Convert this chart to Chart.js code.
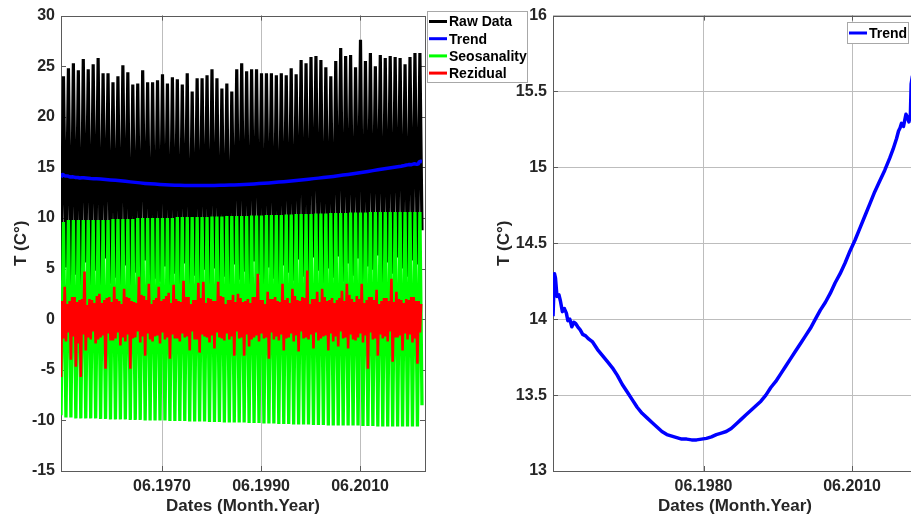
<!DOCTYPE html>
<html>
<head>
<meta charset="utf-8">
<script src="https://cdn.jsdelivr.net/npm/chart.js@4.4.1/dist/chart.umd.min.js"></script>
<style>
  html, body { margin: 0; padding: 0; background: #fff; overflow: hidden; }
  #wrap { position: relative; width: 911px; height: 520px; overflow: hidden; }
  #leftChart { position: absolute; left: 0; top: 0; }
  #rightChart { position: absolute; left: 460px; top: 0; }
</style>
</head>
<body>
<div id="wrap">
  <canvas id="leftChart" width="545" height="520"></canvas>
  <canvas id="rightChart" width="470" height="520"></canvas>
</div>
<script>
const FONT = '"Liberation Sans", Arial, Helvetica, sans-serif';
const INK = "#262626";

// monthly series, kept as a few read-off values per year
const firstYear = 1950;
const lastMonthYear = 2022.92;

const rawSummer = [
    24.0, 24.8, 25.3, 24.6, 25.7, 24.7, 25.2, 25.8, 24.3, 24.3,
    23.4, 24.0, 25.1, 24.4, 23.2, 23.3, 24.6, 23.4, 23.4, 23.6,
    24.2, 23.3, 23.9, 23.7, 23.2, 24.3, 22.5, 23.8, 23.8, 24.1,
    24.7, 23.8, 22.8, 23.3, 22.5, 24.7, 25.3, 24.5, 24.7, 24.7,
    24.3, 24.3, 24.3, 24.1, 24.3, 24.1, 24.8, 24.2, 25.6, 25.3,
    25.9, 26.0, 25.6, 24.9, 24.0, 25.5, 26.8, 26.0, 26.1, 24.9,
    27.6, 25.5, 26.3, 25.0, 26.1, 25.8, 26.0, 25.9, 25.8, 25.2,
    25.9, 26.3, 26.3
];
const rawWinter = [
    3.8, 5.1, 2.6, 4.4, 1.9, 5.6, 3.1, 4.8, 2.2, 6.0,
    3.5, 4.1, 2.9, 5.3, 1.6, 4.6, 3.3, 5.8, 2.4, 4.0,
    3.7, 5.2, 2.8, 4.5, 3.0, 5.5, 2.1, 4.3, 3.6, 4.9,
    2.7, 5.0, 3.2, 4.2, 2.5, 5.4, 3.9, 4.7, 3.4, 5.7,
    4.4, 3.1, 5.1, 4.0, 2.9, 5.3, 4.6, 3.8, 5.9, 4.2,
    3.5, 6.1, 4.8, 3.3, 5.0, 4.1, 6.2, 3.7, 5.5, 4.3,
    6.0, 2.9, 5.2, 4.9, 6.3, 3.6, 5.6, 4.5, 6.1, 5.0,
    4.2, 5.8, 5.4
];
const seasonHigh = [
    9.6, 9.8, 9.8, 9.8, 9.8, 9.8, 9.8, 9.8, 9.8, 9.8,
    9.9, 9.9, 9.9, 9.9, 9.9, 10.0, 10.0, 10.0, 10.0, 10.0,
    10.0, 10.0, 10.0, 10.1, 10.1, 10.1, 10.1, 10.1, 10.1, 10.1,
    10.15, 10.15, 10.15, 10.2, 10.2, 10.2, 10.2, 10.2, 10.25, 10.25,
    10.25, 10.3, 10.3, 10.3, 10.3, 10.35, 10.35, 10.4, 10.4, 10.4,
    10.4, 10.45, 10.45, 10.45, 10.5, 10.5, 10.5, 10.5, 10.55, 10.55,
    10.55, 10.55, 10.6, 10.6, 10.6, 10.6, 10.6, 10.6, 10.6, 10.6,
    10.6, 10.6, 10.6
];
const seasonLow = [
    -9.5, -9.7, -9.7, -9.8, -9.8, -9.8, -9.8, -9.8, -9.85, -9.85,
    -9.9, -9.9, -9.9, -9.9, -9.95, -9.95, -9.95, -10.0, -10.0, -10.0,
    -10.0, -10.0, -10.05, -10.05, -10.05, -10.05, -10.1, -10.1, -10.1, -10.1,
    -10.15, -10.15, -10.15, -10.2, -10.2, -10.2, -10.2, -10.2, -10.25, -10.25,
    -10.25, -10.3, -10.3, -10.3, -10.35, -10.35, -10.35, -10.4, -10.4, -10.4,
    -10.4, -10.45, -10.45, -10.45, -10.5, -10.5, -10.5, -10.5, -10.5, -10.5,
    -10.5, -10.55, -10.55, -10.55, -10.6, -10.6, -10.6, -10.6, -10.6, -10.6,
    -10.6, -10.6, -10.6
];
// residual: Jan, Apr, Jul, Oct values
const residJan = [
    -5.7, -2.2, -4.0, -4.7, -5.7, -3.1, -2.0, -2.4, -1.8, -4.9,
    -2.1, -1.9, -2.6, -2.2, -4.9, -1.8, -2.3, -3.6, -2.0, -1.7,
    -2.4, -2.0, -3.9, -1.9, -2.2, -1.8, -3.1, -2.0, -3.3, -1.7,
    -2.3, -2.9, -1.8, -2.1, -2.0, -3.6, -1.9, -3.6, -2.7, -1.8,
    -2.2, -1.9, -3.9, -2.0, -2.1, -3.1, -1.8, -2.2, -3.2, -1.9,
    -2.0, -2.9, -2.1, -1.7, -3.1, -2.2, -2.7, -1.9, -2.9, -2.0,
    -1.8, -2.3, -4.9, -2.0, -3.6, -1.9, -2.2, -4.2, -1.8, -3.1,
    -2.0, -2.3, -4.4
];
const residApr = [
    1.8, 1.5, 2.2, 1.7, 2.0, 1.4, 1.9, 2.3, 1.6, 2.1,
    1.7, 2.0, 1.5, 2.2, 1.8, 1.6, 2.4, 1.9, 1.5, 2.1,
    1.8, 2.3, 1.6, 2.0, 1.7, 2.2, 1.5, 1.9, 2.1, 1.6,
    2.0, 1.8, 2.3, 1.5, 1.9, 1.7, 2.1, 1.8, 1.6, 2.2,
    1.9, 1.5, 2.0, 2.2, 1.7, 1.9, 1.6, 2.3, 1.8, 2.1,
    1.5, 2.0, 1.7, 2.2, 1.9, 1.6, 2.1, 1.8, 2.4, 1.7,
    2.0, 1.6, 2.2, 1.9, 1.5, 2.1, 1.8, 1.7, 2.0, 1.6,
    1.9, 2.2, 1.8
];
const residJul = [
    -1.9, -1.3, -1.7, -2.4, -1.5, -1.8, -1.2, -2.0, -1.6, -1.4,
    -2.1, -1.3, -1.8, -1.5, -1.9, -1.2, -1.7, -1.4, -2.2, -1.6,
    -1.3, -1.8, -1.5, -1.9, -1.4, -1.7, -1.2, -2.0, -1.5, -1.8,
    -1.6, -1.3, -1.9, -1.4, -1.7, -1.2, -1.8, -1.5, -2.0, -1.6,
    -1.4, -1.8, -1.3, -1.7, -1.5, -1.9, -1.4, -1.6, -1.2, -1.8,
    -1.5, -1.3, -1.9, -1.6, -1.4, -1.7, -1.2, -1.8, -1.5, -2.1,
    -1.4, -1.6, -1.3, -1.9, -1.5, -1.7, -1.2, -1.8, -1.6, -1.4,
    -1.5, -1.9, -1.3
];
const residOct = [
    3.2, 1.8, 2.2, 1.9, 4.7, 2.0, 1.6, 2.5, 1.9, 2.2,
    3.2, 1.8, 3.0, 2.1, 1.7, 4.2, 2.3, 3.5, 1.9, 3.2,
    2.0, 2.6, 3.4, 1.8, 3.8, 2.2, 1.9, 3.6, 3.7, 2.1,
    1.8, 3.7, 2.2, 1.9, 2.4, 2.5, 1.7, 2.0, 2.2, 4.5,
    1.9, 2.7, 2.0, 1.8, 3.5, 2.1, 3.0, 1.9, 2.2, 4.8,
    2.0, 2.7, 3.0, 1.8, 2.1, 1.9, 2.8, 3.5, 2.0, 2.3,
    3.5, 1.9, 2.2, 2.9, 1.8, 2.1, 4.0, 2.7, 1.9, 2.0,
    2.2, 1.8, 1.5
];
const rawLast = 8.8;
const seasonLast = -8.5;
const residLast = 1.5;

const trendYears = [
    1950.0, 1950.3, 1950.5, 1950.8, 1951.2, 1951.5, 1951.9, 1952.3, 1952.7, 1953.0,
    1953.4, 1953.8, 1954.2, 1954.6, 1955.0, 1955.5, 1956.0, 1956.6, 1957.2, 1958.0,
    1959.0, 1960.0, 1961.0, 1962.0, 1963.0, 1964.0, 1965.0, 1966.0, 1967.0, 1968.0,
    1969.0, 1970.0, 1971.0, 1972.0, 1973.0, 1974.0, 1975.0, 1976.0, 1977.0, 1978.0,
    1979.0, 1980.0, 1981.0, 1982.0, 1983.0, 1984.0, 1985.0, 1986.0, 1987.0, 1988.0,
    1989.0, 1990.0, 1991.0, 1992.0, 1993.0, 1994.0, 1995.0, 1996.0, 1997.0, 1998.0,
    1999.0, 2000.0, 2001.0, 2002.0, 2003.0, 2004.0, 2005.0, 2006.0, 2007.0, 2008.0,
    2009.0, 2010.0, 2011.0, 2012.0, 2013.0, 2014.0, 2015.0, 2016.0, 2017.0, 2018.0,
    2018.7, 2019.4, 2019.8, 2020.1, 2020.4, 2020.8, 2021.3, 2021.6, 2021.9, 2022.2,
    2022.35, 2022.6, 2022.92
];
const trendValues = [
    14.02, 14.30, 14.27, 14.15, 14.16, 14.12, 14.05, 14.07, 14.04, 13.99,
    14.00, 13.95, 13.98, 13.97, 13.95, 13.93, 13.90, 13.89, 13.87, 13.85,
    13.80, 13.76, 13.72, 13.68, 13.63, 13.57, 13.52, 13.47, 13.42, 13.38,
    13.35, 13.32, 13.29, 13.26, 13.24, 13.23, 13.22, 13.21, 13.21, 13.205,
    13.205, 13.21, 13.215, 13.225, 13.24, 13.25, 13.26, 13.28, 13.31, 13.34,
    13.37, 13.40, 13.43, 13.46, 13.50, 13.55, 13.59, 13.64, 13.69, 13.74,
    13.79, 13.84, 13.89, 13.94, 14.00, 14.06, 14.11, 14.17, 14.24, 14.30,
    14.37, 14.45, 14.52, 14.60, 14.68, 14.76, 14.84, 14.91, 14.98, 15.06,
    15.12, 15.19, 15.24, 15.26, 15.29, 15.27, 15.35, 15.33, 15.30, 15.35,
    15.55, 15.60, 15.58
];

const leftTickYears = [1970.41, 1990.41, 2010.41];
const leftTickLabels = ["06.1970", "06.1990", "06.2010"];
const rightTickYears = [1980.41, 2010.41];
const rightTickLabels = ["06.1980", "06.2010"];

const xMin = 1950;
const xMax = 2023.53;

// lay the per-year values out in time order: columns[k] sits at year + k / columns.length
function monthly(columns, last) {
    const pts = [];
    columns[0].forEach((_, i) => {
        columns.forEach((col, k) => {
            pts.push({ x: firstYear + i + k / columns.length, y: col[i] });
        });
    });
    pts.push({ x: lastMonthYear, y: last });
    return pts;
}

const trendPoints = trendYears.map((x, i) => ({ x: x, y: trendValues[i] }));

// MATLAB style box with inward ticks, drawn under the data
const boxPlugin = {
    id: "box",
    beforeDatasetsDraw(chart) {
        const { ctx, chartArea: a, scales } = chart;
        ctx.save();
        ctx.strokeStyle = "#5a5a5a";
        ctx.lineWidth = 1;
        ctx.beginPath();
        scales.x.ticks.forEach(t => {
            const px = Math.round(scales.x.getPixelForValue(t.value)) + 0.5;
            ctx.moveTo(px, a.bottom); ctx.lineTo(px, a.bottom - 5);
            ctx.moveTo(px, a.top); ctx.lineTo(px, a.top + 5);
        });
        scales.y.ticks.forEach(t => {
            const py = Math.round(scales.y.getPixelForValue(t.value)) + 0.5;
            ctx.moveTo(a.left, py); ctx.lineTo(a.left + 5, py);
            ctx.moveTo(a.right, py); ctx.lineTo(a.right - 5, py);
        });
        ctx.stroke();
        ctx.strokeRect(Math.round(a.left) + 0.5, Math.round(a.top) + 0.5,
            Math.round(a.right - a.left), Math.round(a.bottom - a.top));
        ctx.restore();
    }
};

function legendPlugin(box, items) {
    return {
        id: "boxLegend",
        afterDraw(chart) {
            const ctx = chart.ctx;
            ctx.save();
            ctx.fillStyle = "#fff";
            ctx.fillRect(box.x, box.y, box.w, box.h);
            ctx.strokeStyle = "#a8a8a8";
            ctx.lineWidth = 1;
            ctx.strokeRect(box.x + 0.5, box.y + 0.5, box.w, box.h);
            ctx.font = "bold 14px " + FONT;
            ctx.textBaseline = "middle";
            items.forEach((it, i) => {
                const y = box.y + box.first + i * box.step;
                ctx.strokeStyle = it.color;
                ctx.lineWidth = 3;
                ctx.beginPath();
                ctx.moveTo(box.x + 2, y);
                ctx.lineTo(box.x + 20, y);
                ctx.stroke();
                ctx.fillStyle = "#000";
                ctx.fillText(it.label, box.x + 22, y + 1);
            });
            ctx.restore();
        }
    };
}

function xScale(tickYears, tickLabels, showGrid) {
    return {
        type: "linear",
        min: xMin,
        max: xMax,
        afterBuildTicks: s => { s.ticks = tickYears.map(v => ({ value: v })); },
        afterFit: s => { s.height = 49; },
        ticks: {
            autoSkip: false,
            maxRotation: 0,
            padding: 6,
            color: INK,
            font: { family: FONT, size: 16, weight: "bold" },
            callback: v => tickLabels[tickYears.indexOf(v)]
        },
        grid: { display: showGrid, drawTicks: false, color: "#bdbdbd" },
        border: { display: false },
        title: {
            display: true,
            text: "Dates (Month.Year)",
            color: INK,
            font: { family: FONT, size: 17, weight: "bold" },
            padding: { top: 0, bottom: 3 }
        }
    };
}

function yScale(min, max, step, width, titlePad, showGrid) {
    return {
        min: min,
        max: max,
        afterBuildTicks: s => {
            const t = [];
            for (let v = min; v <= max + 1e-9; v += step) t.push({ value: Math.round(v * 10) / 10 });
            s.ticks = t;
        },
        afterFit: s => { s.width = width; },
        ticks: {
            padding: 6,
            color: INK,
            font: { family: FONT, size: 16, weight: "bold" },
            callback: v => String(v)
        },
        grid: { display: showGrid, drawTicks: false, color: "#bdbdbd" },
        border: { display: false },
        title: {
            display: true,
            text: "T (C°)",
            color: INK,
            font: { family: FONT, size: 17, weight: "bold" },
            padding: { top: titlePad, bottom: 0 }
        }
    };
}

const lineStyle = { pointRadius: 0, tension: 0, fill: false };

new Chart(document.getElementById("leftChart"), {
    type: "line",
    data: {
        datasets: [
            { ...lineStyle, label: "Raw Data", data: monthly([rawWinter, rawSummer], rawLast), borderColor: "#000000", borderWidth: 3.2, order: 3 },
            { ...lineStyle, label: "Trend", data: trendPoints, borderColor: "#0000ff", borderWidth: 3.5, borderJoinStyle: "round", order: 2 },
            { ...lineStyle, label: "Seosanality", data: monthly([seasonLow, seasonHigh], seasonLast), borderColor: "#00ff00", borderWidth: 3.3, order: 1 },
            { ...lineStyle, label: "Rezidual", data: monthly([residJan, residApr, residJul, residOct], residLast), borderColor: "#ff0000", borderWidth: 2.6, order: 0 }
        ]
    },
    options: {
        responsive: false,
        animation: false,
        layout: { padding: { left: 0, right: 120, top: 15, bottom: 0 } },
        plugins: { legend: { display: false }, tooltip: { enabled: false } },
        scales: {
            x: xScale(leftTickYears, leftTickLabels, true),
            y: yScale(-15, 30, 5, 61, 11, false)
        }
    },
    plugins: [boxPlugin, legendPlugin(
        { x: 427, y: 11, w: 100, h: 71, first: 10.5, step: 17.2 },
        [
            { label: "Raw Data", color: "#000000" },
            { label: "Trend", color: "#0000ff" },
            { label: "Seosanality", color: "#00ff00" },
            { label: "Rezidual", color: "#ff0000" }
        ]
    )]
});

new Chart(document.getElementById("rightChart"), {
    type: "line",
    data: {
        datasets: [
            { ...lineStyle, label: "Trend", data: trendPoints, borderColor: "#0000ff", borderWidth: 3.5, borderJoinStyle: "round" }
        ]
    },
    options: {
        responsive: false,
        animation: false,
        layout: { padding: { left: 0, right: 13, top: 15, bottom: 0 } },
        plugins: { legend: { display: false }, tooltip: { enabled: false } },
        scales: {
            x: xScale(rightTickYears, rightTickLabels, true),
            y: yScale(13, 16, 0.5, 93, 34, true)
        }
    },
    plugins: [boxPlugin, legendPlugin(
        { x: 387, y: 22, w: 61, h: 21, first: 11, step: 0 },
        [{ label: "Trend", color: "#0000ff" }]
    )]
});
</script>
</body>
</html>
